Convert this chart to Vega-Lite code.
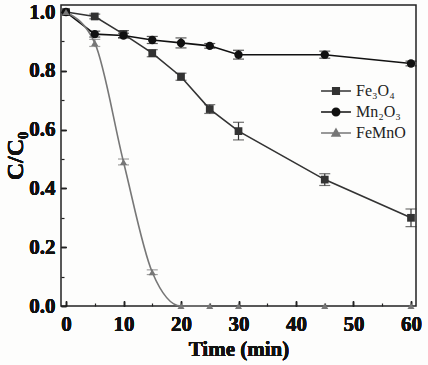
{
  "$schema": "https://vega.github.io/schema/vega-lite/v6.json",
  "autosize": "none",
  "width": 355,
  "height": 301,
  "padding": {"left": 61, "top": 5, "right": 12, "bottom": 59},
  "background": "#fdfdfc",
  "config": {
    "view": {"stroke": "#222", "strokeWidth": 1.5},
    "font": "Liberation Serif",
    "axis": {
      "labelFont": "Liberation Serif", "labelFontWeight": "bold", "labelFontSize": 21, "labelColor": "#111",
      "titleFont": "Liberation Serif", "titleFontWeight": "bold", "titleColor": "#111",
      "domain": false, "grid": false, "tickColor": "#222", "tickSize": -5, "tickWidth": 1.2, "labelPadding": 7
    }
  },
  "data": {"values": [
    {"series": "Fe₃O₄", "t": 0, "v": 1.0, "err": 0.0},
    {"series": "Fe₃O₄", "t": 5, "v": 0.985, "err": 0.008},
    {"series": "Fe₃O₄", "t": 10, "v": 0.925, "err": 0.012},
    {"series": "Fe₃O₄", "t": 15, "v": 0.86, "err": 0.012},
    {"series": "Fe₃O₄", "t": 20, "v": 0.78, "err": 0.012},
    {"series": "Fe₃O₄", "t": 25, "v": 0.67, "err": 0.015},
    {"series": "Fe₃O₄", "t": 30, "v": 0.595, "err": 0.03},
    {"series": "Fe₃O₄", "t": 45, "v": 0.43, "err": 0.02},
    {"series": "Fe₃O₄", "t": 60, "v": 0.30, "err": 0.03},
    {"series": "Mn₂O₃", "t": 0, "v": 1.0, "err": 0.0},
    {"series": "Mn₂O₃", "t": 5, "v": 0.925, "err": 0.01},
    {"series": "Mn₂O₃", "t": 10, "v": 0.92, "err": 0.008},
    {"series": "Mn₂O₃", "t": 15, "v": 0.905, "err": 0.012},
    {"series": "Mn₂O₃", "t": 20, "v": 0.895, "err": 0.017},
    {"series": "Mn₂O₃", "t": 25, "v": 0.885, "err": 0.008},
    {"series": "Mn₂O₃", "t": 30, "v": 0.855, "err": 0.015},
    {"series": "Mn₂O₃", "t": 45, "v": 0.855, "err": 0.012},
    {"series": "Mn₂O₃", "t": 60, "v": 0.825, "err": 0.008},
    {"series": "FeMnO", "t": 0, "v": 1.0, "err": 0.0},
    {"series": "FeMnO", "t": 5, "v": 0.895, "err": 0.012},
    {"series": "FeMnO", "t": 10, "v": 0.49, "err": 0.01},
    {"series": "FeMnO", "t": 15, "v": 0.115, "err": 0.008},
    {"series": "FeMnO", "t": 20, "v": 0.0, "err": 0.0},
    {"series": "FeMnO", "t": 25, "v": 0.0, "err": 0.0},
    {"series": "FeMnO", "t": 30, "v": 0.0, "err": 0.0},
    {"series": "FeMnO", "t": 45, "v": 0.0, "err": 0.0},
    {"series": "FeMnO", "t": 60, "v": 0.0, "err": 0.0}
  ]},
  "encoding": {
    "x": {"field": "t", "type": "quantitative",
      "scale": {"domain": [-0.87, 60.87], "nice": false, "zero": false},
      "axis": {"values": [0, 10, 20, 30, 40, 50, 60], "title": "Time (min)", "titleFontSize": 21, "titlePadding": 4, "labelPadding": 12, "orient": "bottom"}},
    "y": {"field": "v", "type": "quantitative",
      "scale": {"domain": [0, 1.024], "nice": false},
      "axis": {"values": [0, 0.2, 0.4, 0.6, 0.8, 1.0], "format": ".1f", "title": "C/C₀", "titleFontSize": 24, "titlePadding": 1, "labelPadding": 11, "orient": "left"}},
    "color": {"field": "series", "type": "nominal",
      "scale": {"domain": ["Fe₃O₄", "Mn₂O₃", "FeMnO"], "range": ["#333333", "#111111", "#777777"]},
      "legend": {
        "title": null, "orient": "none", "legendX": 263, "legendY": 74, "padding": 0,
        "labelFont": "Liberation Serif", "labelFontSize": 16, "labelColor": "#222",
        "rowPadding": 1, "symbolSize": 484, "labelOffset": 8, "symbolStrokeWidth": 1.5,
        "encode": {"symbols": {"update": {
          "shape": {"signal": "datum.value == 'Fe₃O₄' ? 'M-1.36,0H1.36M-0.3,-0.3H0.3V0.3H-0.3Z' : datum.value == 'Mn₂O₃' ? 'M-1.36,0H1.36M0.34,0A0.34,0.34,0,1,1,-0.34,0A0.34,0.34,0,1,1,0.34,0Z' : 'M-1.36,0H1.36M0,-0.36L0.36,0.28H-0.36Z'"},
          "stroke": {"signal": "scale('color', datum.value)"},
          "fill": {"signal": "scale('color', datum.value)"},
          "strokeWidth": {"value": 1.5},
          "opacity": {"value": 1}
        }}}
      }}
  },
  "layer": [
    {
      "transform": [{"filter": "datum.err > 0"}, {"calculate": "datum.v - datum.err", "as": "lo"}, {"calculate": "datum.v + datum.err", "as": "hi"}],
      "layer": [
        {"mark": {"type": "rule", "strokeWidth": 1.2}, "encoding": {"y": {"field": "lo", "type": "quantitative"}, "y2": {"field": "hi"}}},
        {"mark": {"type": "tick", "orient": "horizontal", "size": 11, "thickness": 1.2}, "encoding": {"y": {"field": "lo", "type": "quantitative"}}},
        {"mark": {"type": "tick", "orient": "horizontal", "size": 11, "thickness": 1.2}, "encoding": {"y": {"field": "hi", "type": "quantitative"}}}
      ]
    },
    {"transform": [{"filter": "datum.series != 'FeMnO'"}], "mark": {"type": "line", "strokeWidth": 1.6}},
    {"transform": [{"filter": "datum.series == 'FeMnO' && datum.t <= 25"}], "mark": {"type": "line", "strokeWidth": 1.6, "interpolate": "monotone"}},
    {"transform": [{"filter": "datum.series == 'Fe₃O₄'"}], "mark": {"type": "point", "shape": "square", "filled": true, "opacity": 1, "size": 60}},
    {"transform": [{"filter": "datum.series == 'Mn₂O₃'"}], "mark": {"type": "point", "shape": "circle", "filled": true, "opacity": 1, "size": 70}},
    {"transform": [{"filter": "datum.series == 'FeMnO'"}], "mark": {"type": "point", "shape": "triangle-up", "filled": true, "opacity": 1, "size": 50}},
    {"mark": {"type": "point", "opacity": 0},
      "encoding": {
        "x": {"field": "t", "type": "quantitative", "axis": {"values": [5, 15, 25, 35, 45, 55], "labels": false, "title": null, "tickSize": 3, "orient": "top", "offset": -301}},
        "y": {"field": "v", "type": "quantitative", "axis": {"values": [0.1, 0.3, 0.5, 0.7, 0.9], "labels": false, "title": null, "tickSize": 3, "orient": "right", "offset": -355}}
      }}
  ],
  "resolve": {"axis": {"x": "independent", "y": "independent"}}
}
